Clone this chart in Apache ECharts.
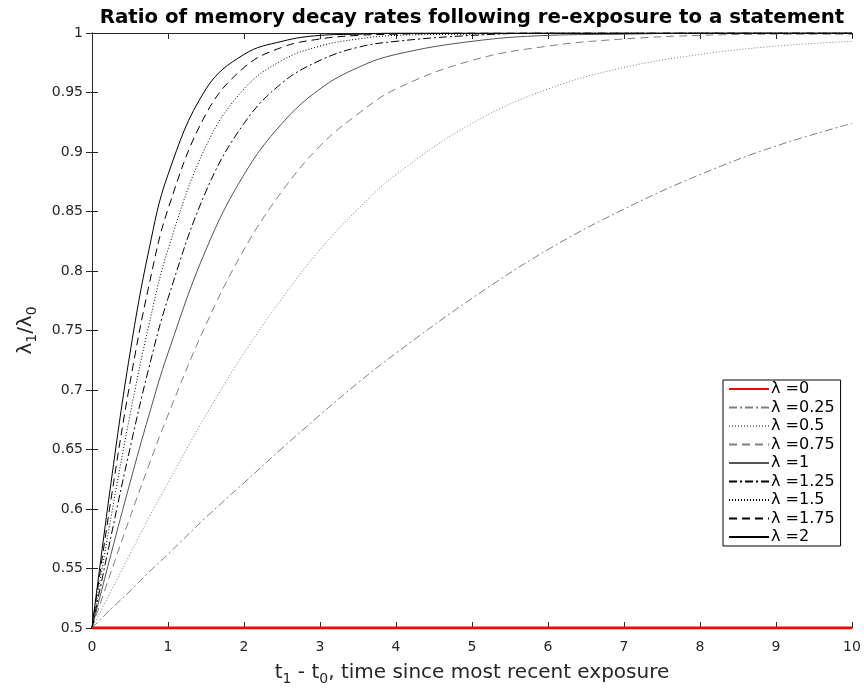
<!DOCTYPE html>
<html><head><meta charset="utf-8">
<script src="https://cdn.jsdelivr.net/npm/echarts@6/dist/echarts.min.js"></script>
<style>html,body{margin:0;padding:0;background:#fff}#c{width:864px;height:689px}</style>
</head><body><div id="c"></div>
<script>
const xs = [0, 0.25, 0.5, 0.75, 1, 1.5, 2, 2.5, 3, 3.5, 4, 5, 6, 7, 8, 9, 10];
const lam0    = [0.5,0.5,0.5,0.5,0.5,0.5,0.5,0.5,0.5,0.5,0.5,0.5,0.5,0.5,0.5,0.5,0.5];
const lam025  = [0.5,0.516,0.531,0.547,0.562,0.593,0.622,0.651,0.679,0.706,0.731,0.777,0.818,0.852,0.881,0.905,0.924];
const lam05   = [0.5,0.531,0.562,0.593,0.622,0.679,0.731,0.777,0.818,0.852,0.881,0.924,0.953,0.971,0.982,0.989,0.993];
const lam075  = [0.5,0.547,0.593,0.637,0.679,0.755,0.818,0.867,0.905,0.932,0.953,0.977,0.989,0.995,0.998,0.999,0.999];
const lam1    = [0.5,0.562,0.622,0.679,0.731,0.818,0.881,0.924,0.953,0.971,0.982,0.993,0.998,0.999,1,1,1];
const lam125  = [0.5,0.577,0.651,0.719,0.777,0.867,0.924,0.958,0.977,0.988,0.993,0.998,1,1,1,1,1];
const lam15   = [0.5,0.593,0.679,0.755,0.818,0.905,0.953,0.977,0.989,0.995,0.998,0.999,1,1,1,1,1];
const lam175  = [0.5,0.608,0.706,0.788,0.852,0.932,0.971,0.988,0.995,0.998,0.999,1,1,1,1,1,1];
const lam2    = [0.5,0.622,0.731,0.818,0.881,0.953,0.982,0.993,0.998,0.999,1,1,1,1,1,1,1];
const names = ['λ =0','λ =0.25','λ =0.5','λ =0.75','λ =1','λ =1.25','λ =1.5','λ =1.75','λ =2'];
const yTicks = [0.5,0.55,0.6,0.65,0.7,0.75,0.8,0.85,0.9,0.95,1];
const xTicks = [0,1,2,3,4,5,6,7,8,9,10];

const seriesData = [lam0,lam025,lam05,lam075,lam1,lam125,lam15,lam175,lam2];
const styles = [
  {color:'#ff0000', width:3, type:'solid'},
  {color:'#7f7f7f', width:1, type:[8,3,2,3]},
  {color:'#7f7f7f', width:1, type:[1,2]},
  {color:'#7f7f7f', width:1, type:[8,5]},
  {color:'#555555', width:1, type:'solid'},
  {color:'#000000', width:1, type:[8,3,2,3]},
  {color:'#000000', width:1, type:[1,2]},
  {color:'#000000', width:1, type:[8,5]},
  {color:'#000000', width:1, type:'solid'}
];
const F = 'DejaVu Sans';
const series = seriesData.map((d,i)=>({
  name: names[i], type:'line', data: d.map((v,j)=>[xs[j],v]),
  showSymbol:false, symbol:'none', smooth:0.4,
  lineStyle: styles[i], itemStyle:{color:styles[i].color},
  z: i===0 ? 10 : 2, clip:true
}));
const axBase = {
  axisLine:{show:true, lineStyle:{color:'#262626', width:1}},
  axisTick:{show:true, inside:true, length:6, lineStyle:{color:'#262626'}},
  splitLine:{show:false}
};
const chart = echarts.init(document.getElementById('c'), null, {renderer:'canvas'});
chart.setOption({
  animation:false,
  backgroundColor:'#fff',
  title:{text:'Ratio of memory decay rates following re-exposure to a statement', left:467, top:3, textAlign:'center',
    textStyle:{fontFamily:F, fontSize:19.8, fontWeight:'bold', color:'#000'}},
  grid:{left:92, right:12, top:33, bottom:61, containLabel:false, outerBoundsMode:'none'},
  legend:{orient:'vertical', left:723, top:380, width:115, padding:[1,6,1,5], itemGap:2.5, itemWidth:40, itemHeight:14,
    borderColor:'#000', borderWidth:1, backgroundColor:'#fff',
    itemStyle:{opacity:0},
    textStyle:{fontFamily:F, fontSize:16, color:'#000', padding:[0,0,0,-3]}, data:names},
  xAxis:[
    Object.assign({type:'value', min:0, max:10, interval:1, position:'bottom',
      axisLabel:{fontFamily:F, fontSize:14, color:'#262626', margin:12},
      name:'t{s|1} - t{s|0}, time since most recent exposure', nameLocation:'middle', nameGap:32,
      nameTextStyle:{fontFamily:F, fontSize:20, color:'#262626', rich:{s:{fontFamily:F, fontSize:14, color:'#262626', padding:[12,0,0,0]}}}
    }, axBase),
    Object.assign({type:'value', min:0, max:10, interval:1, position:'top', axisLabel:{show:false}}, axBase)
  ],
  yAxis:[
    Object.assign({type:'value', min:0.5, max:1, interval:0.05, position:'left',
      axisLabel:{fontFamily:F, fontSize:14, color:'#262626', margin:9, formatter:v=>String(+v.toFixed(2))},
      name:'λ{s|1}/λ{s|0}', nameLocation:'middle', nameGap:53, nameRotate:90,
      nameTextStyle:{fontFamily:F, fontSize:20, color:'#262626', rich:{s:{fontFamily:F, fontSize:14, color:'#262626', padding:[12,0,0,0]}}}
    }, axBase),
    Object.assign({type:'value', min:0.5, max:1, interval:0.05, position:'right', axisLabel:{show:false}}, axBase)
  ],
  series: series
});
</script></body></html>
